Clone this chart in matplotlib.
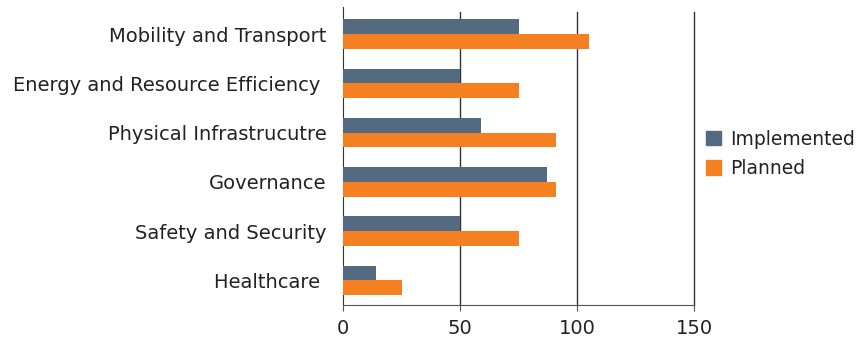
import numpy as np
import matplotlib
matplotlib.use('Agg')
import matplotlib.pyplot as plt
from matplotlib.patches import Patch

# categories, top to bottom
categories = ["Mobility and Transport", "Energy and Resource Efficiency ",
              "Physical Infrastrucutre", "Governance", "Safety and Security",
              "Healthcare "]
implemented = [75, 50, 59, 87, 50, 14]
planned = [105, 75, 91, 91, 75, 25]
x_ticks = [0, 50, 100, 150]

c_impl = "#546a80"
c_plan = "#f58022"
c_text = "#222222"

plt.rcParams['font.family'] = ['DejaVu Sans']

fig = plt.figure(figsize=(8.67, 3.38), dpi=100)
ax = fig.add_axes([0.3956, 0.098, 0.405, 0.881])

y = np.arange(len(categories))[::-1]
h = 0.3
ax.barh(y + h / 2, implemented, height=h, color=c_impl, zorder=3)
ax.barh(y - h / 2, planned, height=h, color=c_plan, zorder=3)

ax.set_xlim(0, 150)
ax.set_ylim(-0.5, 5.55)
ax.set_xticks(x_ticks)
ax.set_xticklabels([str(t) for t in x_ticks], fontsize=14, color=c_text)
ax.set_yticks(y)
ax.set_yticklabels(categories, fontsize=14, color=c_text)
ax.tick_params(axis='y', length=0, pad=12)
ax.tick_params(axis='x', length=4, color="#555555", pad=6)

for gx in x_ticks[1:]:
    ax.axvline(gx, ymin=0, ymax=0.985, color="#333333", lw=1.0,
               zorder=1, clip_on=False)

for s in ["top", "right"]:
    ax.spines[s].set_visible(False)
ax.spines["left"].set_color("#333333")
ax.spines["bottom"].set_color("#555555")

handles = [Patch(color=c_impl, label="Implemented"),
           Patch(color=c_plan, label="Planned")]
leg = fig.legend(handles=handles, loc="center left", bbox_to_anchor=(0.795, 0.545),
                 frameon=False, fontsize=13.5, handlelength=0.8, handleheight=0.8,
                 handletextpad=0.5, labelspacing=0.55)
for t in leg.get_texts():
    t.set_color(c_text)

fig.savefig("out.png", dpi=100)
